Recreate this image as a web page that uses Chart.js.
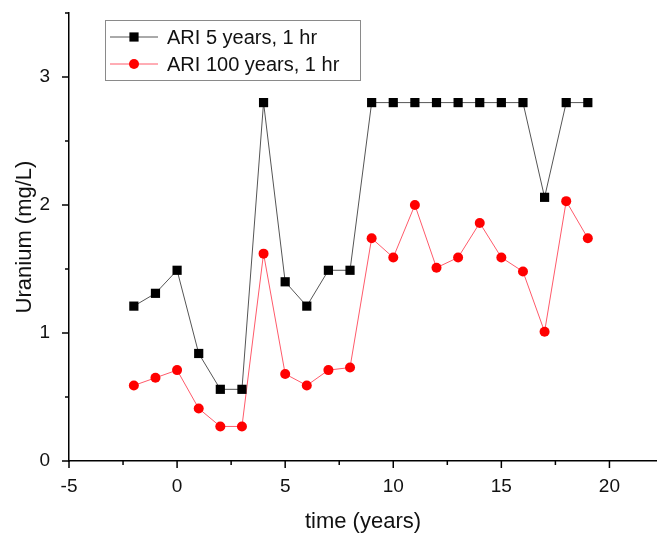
<!DOCTYPE html>
<html>
<head>
<meta charset="utf-8">
<script src="https://cdn.jsdelivr.net/npm/chart.js@4/dist/chart.umd.min.js"></script>
<style>
  html, body { margin: 0; padding: 0; background: #fff; }
  #wrap { width: 657px; height: 533px; position: relative; }
</style>
</head>
<body>
<div id="wrap"><canvas id="c"></canvas></div>
<script>
const years = [-2, -1, 0, 1, 2, 3, 4, 5, 6, 7, 8, 9, 10, 11, 12, 13, 14, 15, 16, 17, 18, 19];
const ari5 = [1.21, 1.31, 1.49, 0.84, 0.56, 0.56, 2.80, 1.40, 1.21, 1.49, 1.49, 2.80, 2.80, 2.80, 2.80, 2.80, 2.80, 2.80, 2.80, 2.06, 2.80, 2.80];
const ari100 = [0.59, 0.65, 0.71, 0.41, 0.27, 0.27, 1.62, 0.68, 0.59, 0.71, 0.73, 1.74, 1.59, 2.00, 1.51, 1.59, 1.86, 1.59, 1.48, 1.01, 2.03, 1.74];
const seriesNames = ['ARI 5 years, 1 hr', 'ARI 100 years, 1 hr'];
const xTitle = 'time (years)';
const yTitle = 'Uranium (mg/L)';

const FONT = "'Liberation Sans', Arial, sans-serif";

const tickPlugin = {
  id: 'customTicks',
  afterDraw(chart) {
    const ctx = chart.ctx;
    ctx.save();
    ctx.strokeStyle = '#000';
    ctx.lineWidth = 1.5;
    const xs = chart.scales.x, ys = chart.scales.y;
    xs.ticks.forEach(t => {
      if (t.value > xs.max) return;
      const px = xs.getPixelForValue(t.value);
      const major = Math.abs(t.value % 5) < 1e-9;
      ctx.beginPath();
      ctx.moveTo(px, xs.top);
      ctx.lineTo(px, xs.top + (major ? 7 : 4));
      ctx.stroke();
    });
    ys.ticks.forEach(t => {
      const py = ys.getPixelForValue(t.value);
      const major = Math.abs(t.value % 1) < 1e-9;
      ctx.beginPath();
      ctx.moveTo(ys.right, py);
      ctx.lineTo(ys.right - (major ? 7 : 4), py);
      ctx.stroke();
    });
    ctx.restore();
  }
};

const legendPlugin = {
  id: 'customLegend',
  afterDraw(chart) {
    const ctx = chart.ctx;
    ctx.save();
    ctx.strokeStyle = '#8a8a8a';
    ctx.lineWidth = 1;
    ctx.strokeRect(105.5, 20.5, 255, 60);
    const rows = [37, 64];
    chart.data.datasets.forEach((ds, i) => {
      const y = rows[i];
      ctx.strokeStyle = ds.borderColor;
      ctx.lineWidth = ds.borderWidth;
      ctx.beginPath();
      ctx.moveTo(110, y);
      ctx.lineTo(158, y);
      ctx.stroke();
      ctx.fillStyle = ds.pointBackgroundColor;
      ctx.strokeStyle = ds.pointBorderColor;
      Chart.helpers.drawPoint(ctx, {pointStyle: ds.pointStyle, radius: ds.pointRadius, borderWidth: 0}, 134, y);
      ctx.fillStyle = '#111';
      ctx.font = '20px ' + FONT;
      ctx.textBaseline = 'middle';
      ctx.textAlign = 'left';
      ctx.fillText(ds.label, 167, y + 1);
    });
    ctx.restore();
  }
};

new Chart(document.getElementById('c'), {
  type: 'line',
  data: {
    datasets: [
      {
        label: seriesNames[0],
        data: years.map((x, i) => ({x, y: ari5[i]})),
        borderColor: '#555',
        borderWidth: 1,
        pointStyle: 'rect',
        pointRadius: 6.5,
        pointBackgroundColor: '#000',
        pointBorderColor: '#000',
        pointBorderWidth: 0,
        tension: 0
      },
      {
        label: seriesNames[1],
        data: years.map((x, i) => ({x, y: ari100[i]})),
        borderColor: '#ff5a6a',
        borderWidth: 1,
        pointStyle: 'circle',
        pointRadius: 5,
        pointBackgroundColor: '#ff0000',
        pointBorderColor: '#ff0000',
        pointBorderWidth: 0,
        tension: 0
      }
    ]
  },
  options: {
    responsive: true,
    maintainAspectRatio: false,
    animation: false,
    layout: { autoPadding: false, padding: { top: 13, right: 0, left: 0, bottom: 0 } },
    plugins: { legend: { display: false }, tooltip: { enabled: false } },
    scales: {
      x: {
        type: 'linear',
        min: -5,
        max: 22.2,
        afterFit(s) { s.height = 72; s.paddingLeft = 0; s.paddingRight = 0; },
        grid: { display: false, drawTicks: false, tickLength: 0 },
        border: { display: true, color: '#000', width: 1.5 },
        ticks: {
          stepSize: 2.5,
          includeBounds: false,
          autoSkip: false,
          maxRotation: 0,
          padding: 14,
          color: '#111',
          font: { family: FONT, size: 19 },
          callback: v => (Math.abs(v % 5) < 1e-9 && v <= 20 ? String(v) : '')
        },
        title: {
          display: true,
          text: xTitle,
          color: '#111',
          font: { family: FONT, size: 22, lineHeight: 1 },
          padding: { top: 0, bottom: 0 }
        }
      },
      y: {
        type: 'linear',
        min: 0,
        max: 3.5,
        afterFit(s) { s.width = 69; s.paddingTop = 0; s.paddingBottom = 0; },
        grid: { display: false, drawTicks: false, tickLength: 0 },
        border: { display: true, color: '#000', width: 1.5 },
        ticks: {
          stepSize: 0.5,
          autoSkip: false,
          padding: 19,
          color: '#111',
          font: { family: FONT, size: 19 },
          callback: v => (Math.abs(v % 1) < 1e-9 ? String(v) : '')
        },
        title: {
          display: true,
          text: yTitle,
          color: '#111',
          font: { family: FONT, size: 22, lineHeight: 1.2 },
          padding: { top: 12, bottom: 0 }
        }
      }
    }
  },
  plugins: [tickPlugin, legendPlugin]
});
</script>
</body>
</html>
